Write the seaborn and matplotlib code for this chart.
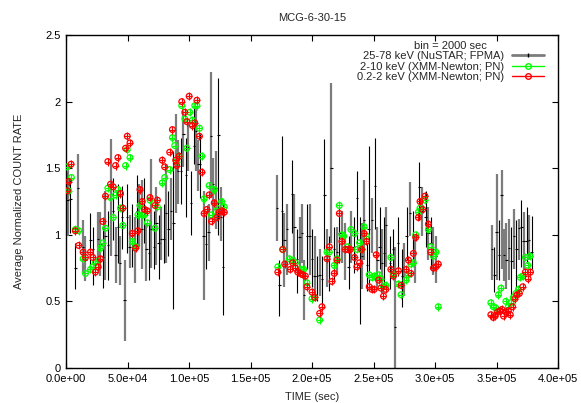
import numpy as np
import pandas as pd
import matplotlib
matplotlib.use("Agg")
import matplotlib.pyplot as plt
from matplotlib.lines import Line2D
from matplotlib.ticker import FormatStrFormatter, FuncFormatter
import seaborn as sns

# ---------------- data ----------------
title = "MCG-6-30-15"
xlabel = "TIME (sec)"
ylabel = "Average Normalized COUNT RATE"
legend_title = "bin = 2000 sec"
label_nustar = "25-78 keV (NuSTAR; FPMA)"
label_hard = "2-10 keV (XMM-Newton; PN)"
label_soft = "0.2-2 keV (XMM-Newton; PN)"

x_ticks = [0, 50000, 100000, 150000, 200000, 250000, 300000, 350000, 400000]
y_ticks = [0, 0.5, 1, 1.5, 2, 2.5]

# NuSTAR FPMA (grey bars): time, rate, upper, lower
fpma_t = [1400, 9800, 13900, 15800, 25800, 28000, 32100, 36200, 40300, 43800,
          47600, 51700, 55800, 59600, 61500, 65300, 69400, 73400, 77200, 81300,
          85400, 89200, 91100, 95500, 99300, 105500, 107700, 111800, 115900, 117800,
          119700, 121900, 125900,
          171600, 177600, 179700, 185700, 190000, 191900, 193500, 198100, 202200, 206200,
          212200, 215700, 220300, 224300, 227000, 231600, 240500, 242400, 248700, 253200,
          256800, 260300, 267600, 274900, 279700, 283800, 289200, 294600, 298700, 300600,
          346300, 350100, 354200, 356100, 358000, 360200, 364200, 368300, 372100, 376400]
fpma_rate = [1.26, 1.35, 0.91, 0.81, 0.97, 0.93, 0.99, 1.28, 0.85, 0.79,
             0.51, 0.91, 0.91, 1.15, 1.04, 0.89, 1.04, 1.09, 0.97, 1.16,
             1.18, 1.53, 1.48, 1.76, 1.66, 1.78, 1.53, 0.99, 1.02, 1.74,
             1.38, 1.35, 1.13,
             1.20, 0.96, 1.04, 1.06, 0.98, 1.01, 0.55, 0.99, 0.69, 0.70,
             0.81, 1.50, 0.87, 1.01, 0.89, 1.02, 0.84, 1.11, 1.11, 0.81,
             0.79, 1.07, 0.31, 0.74, 1.16, 0.79, 1.18, 1.01, 0.89, 0.84,
             0.89, 1.02, 1.30, 0.85, 0.81, 0.90, 0.99, 1.05, 0.95, 0.96]
fpma_hi = [1.53, 1.61, 1.11, 0.99, 1.17, 1.17, 1.33, 1.72, 1.06, 0.99,
           0.81, 1.15, 1.13, 1.38, 1.41, 1.09, 1.57, 1.36, 1.21, 1.53,
           1.43, 1.91, 1.71, 1.93, 1.83, 1.96, 1.71, 1.33, 1.23, 2.22,
           1.58, 1.63, 1.36,
           1.45, 1.16, 1.23, 1.31, 1.13, 1.23, 0.81, 1.23, 0.99, 0.89,
           1.04, 2.14, 1.06, 1.18, 1.09, 1.18, 1.09, 1.41, 1.28, 1.06,
           1.04, 1.21, 0.91, 0.94, 1.40, 0.99, 1.36, 1.21, 1.06, 0.99,
           1.07, 1.46, 1.49, 1.04, 1.09, 1.12, 1.19, 1.12, 1.17, 1.15]
fpma_lo = [0.99, 1.04, 0.71, 0.65, 0.77, 0.69, 0.66, 0.84, 0.64, 0.62,
           0.20, 0.75, 0.64, 0.91, 0.74, 0.65, 0.75, 0.77, 0.81, 0.79,
           0.96, 1.16, 1.23, 1.51, 1.48, 1.48, 1.33, 0.51, 0.80, 1.28,
           1.13, 1.04, 0.95,
           0.95, 0.61, 0.70, 0.79, 0.70, 0.79, 0.36, 0.70, 0.51, 0.54,
           0.61, 0.94, 0.70, 0.79, 0.66, 0.79, 0.59, 0.81, 0.86, 0.59,
           0.56, 0.76, 0.00, 0.54, 0.99, 0.64, 0.99, 0.81, 0.70, 0.64,
           0.66, 0.66, 0.74, 0.65, 0.59, 0.66, 0.74, 0.81, 0.74, 0.81]

# NuSTAR (black bars): time, rate, upper, lower
fpmb_t = [3500, 7600, 19900, 21800, 29900, 34000, 38100, 42200, 45700, 49800,
          53900, 57700, 63400, 67500, 71500, 75300, 79400, 83200, 87300, 93300,
          97400, 101500, 104200, 109100, 113700, 123800, 127800,
          173500, 175700, 183800, 187800, 195900, 200000, 204100, 208100, 210000, 213500,
          218100, 222200, 229700, 233800, 236500, 239200, 244600, 246000, 251400, 254900,
          258600, 263500, 265700, 269700, 273000, 277000, 281900, 287300, 292400, 296500,
          348300, 352000, 362100, 366100, 370200, 374500, 378600]
fpmb_rate = [1.27, 0.75, 0.96, 0.89, 0.83, 0.92, 1.18, 1.06, 1.13, 1.13,
             1.00, 1.18, 1.18, 0.86, 0.91, 0.94, 0.97, 1.04, 1.09, 1.48,
             1.45, 1.24, 1.67, 1.53, 0.93, 1.75, 0.76,
             0.62, 1.18, 1.31, 0.82, 0.99, 0.82, 0.69, 0.67, 1.30, 0.84,
             0.89, 1.01, 0.76, 0.91, 1.28, 0.79, 0.77, 1.04, 1.37, 0.91,
             0.86, 0.79, 0.89, 0.94, 0.69, 0.99, 0.99, 1.36, 1.13, 0.94,
             0.70, 0.85, 0.80, 0.89, 1.06, 0.95, 0.87]
fpmb_hi = [1.43, 0.94, 1.16, 1.06, 1.06, 1.18, 1.43, 1.38, 1.37, 1.38,
           1.23, 1.45, 1.43, 1.09, 1.18, 1.15, 1.23, 1.33, 1.63, 1.73,
           1.73, 1.48, 1.96, 1.76, 1.18, 2.18, 1.23,
           0.81, 1.74, 1.56, 1.04, 1.23, 1.04, 0.84, 0.84, 1.72, 0.99,
           1.06, 1.22, 0.99, 1.13, 1.48, 1.13, 0.94, 1.67, 1.73, 1.21,
           1.13, 0.99, 1.04, 1.13, 0.89, 1.21, 1.18, 1.55, 1.33, 1.13,
           0.91, 1.11, 1.06, 1.11, 1.26, 1.21, 1.14]
fpmb_lo = [1.01, 0.59, 0.75, 0.62, 0.60, 0.66, 0.96, 0.79, 0.89, 0.86,
           0.76, 0.91, 0.94, 0.66, 0.74, 0.67, 0.79, 0.84, 0.44, 1.23,
           1.13, 1.00, 1.53, 1.28, 0.74, 1.00, 0.40,
           0.39, 0.91, 1.01, 0.56, 0.74, 0.61, 0.50, 0.46, 0.89, 0.58,
           0.66, 0.79, 0.59, 0.71, 0.94, 0.33, 0.58, 0.64, 1.04, 0.74,
           0.59, 0.59, 0.69, 0.69, 0.46, 0.81, 0.79, 1.11, 0.91, 0.74,
           0.57, 0.66, 0.54, 0.60, 0.76, 0.79, 0.74]

# XMM-Newton 2-10 keV (green)
hard_t = [1000, 2200, 4400, 7600, 10300, 13900, 15800, 19900, 21800, 23900,
          26100, 28000, 29900, 32100, 34000, 36200, 38400, 40300, 42200, 44300,
          46200, 48400, 49800, 52000, 53900, 56600, 58500, 60100, 62000, 63900,
          66100, 68300, 72400, 74300, 78300, 80200, 84300, 86500, 88400, 90000,
          91900, 94100, 96600, 98200, 100600, 102800, 104700, 106400, 108500, 110400,
          112300, 116400, 118300, 120500, 122700, 126500, 128700,
          172200, 176200, 181600, 184300, 186500, 190500, 193200, 195900, 200000, 202200,
          206200, 212200, 214100, 218100, 220300, 222200, 224300, 225700, 228900, 231600,
          234600, 236500, 238700, 240500, 242400, 244300, 246500, 248700, 250500, 254100,
          256000, 258100, 260000, 264100, 266200, 270300, 272400, 276500, 278400, 280300,
          282400, 284300, 286500, 287800, 291900, 294600, 296500, 298700, 300800, 302700,
          345400, 347300, 349500, 351600, 353600, 357600, 359600, 361700, 363700, 365800,
          367800, 369400, 371300, 373500, 375400, 377300]
hard_rate = [1.51, 1.33, 1.43, 1.04, 1.03, 0.82, 0.71, 0.74, 0.76, 0.79,
             0.80, 0.90, 0.94, 1.05, 1.35, 1.28, 1.13, 1.30, 1.34, 1.20,
             1.07, 1.52, 1.64, 1.58, 0.95, 0.91, 1.15, 1.22, 1.15, 1.15,
             1.09, 1.26, 1.05, 1.21, 1.39, 1.43, 1.49, 1.73, 1.67, 1.55,
             1.59, 1.97, 1.87, 1.65, 1.92, 1.86, 1.97, 1.97, 1.80, 1.59,
             1.27, 1.37, 1.15, 1.34, 1.20, 1.25, 1.21,
             0.76, 0.89, 0.82, 0.81, 0.79, 0.74, 0.74, 0.64, 0.52, 0.53,
             0.36, 0.87, 0.87, 0.77, 0.82, 1.22, 1.00, 0.99, 0.91, 1.04,
             1.01, 0.89, 0.94, 0.89, 1.06, 0.99, 0.70, 0.68, 0.69, 0.70,
             0.67, 0.61, 0.62, 0.83, 0.70, 0.63, 0.55, 0.66, 0.70, 0.78,
             0.79, 1.00, 1.17, 1.20, 1.26, 1.04, 0.91, 0.84, 0.87, 0.46,
             0.49, 0.46, 0.45, 0.55, 0.60, 0.50, 0.46, 0.49, 0.53, 0.56,
             0.59, 0.68, 0.69, 0.83, 0.77, 0.84]

# XMM-Newton 0.2-2 keV (red)
soft_t = [1000, 2200, 4100, 7600, 10300, 13900, 15800, 19900, 21800, 23900,
          26100, 28000, 29900, 32100, 34000, 36200, 38400, 40300, 42200, 44300,
          46200, 48400, 49800, 52000, 53900, 56600, 58500, 60100, 62000, 63900,
          66100, 68300, 72400, 74300, 78300, 80200, 84300, 86500, 89200, 90000,
          91900, 94100, 96600, 98200, 100100, 102800, 104700, 106400, 108500, 110400,
          112300, 114500, 116400, 118300, 120500, 122700, 124600, 126500, 128700,
          172200, 176200, 177800, 182400, 184300, 186500, 188400, 190500, 192400, 194600,
          195900, 200000, 202200, 206200, 208100, 212200, 214100, 216200, 218100, 220300,
          222200, 224300, 227000, 228900, 231100, 234600, 236500, 238700, 240300, 242400,
          244300, 246500, 248700, 250500, 252200, 254100, 256000, 258100, 260000, 264100,
          266200, 270300, 272400, 276500, 278400, 280300, 282400, 284300, 286500, 287800,
          290000, 291900, 294600, 296500, 298700, 300800, 302700,
          345400, 347300, 348900, 350800, 352700, 354400, 355700, 357600, 359600, 361200,
          363100, 365000, 366700, 368600, 371300, 373500, 375700, 377600]
soft_rate = [1.33, 1.40, 1.53, 1.03, 0.92, 0.87, 0.83, 0.87, 0.83, 0.72,
             0.76, 0.82, 1.10, 1.29, 1.55, 1.38, 1.36, 1.52, 1.58, 1.31,
             1.20, 1.65, 1.74, 1.69, 1.01, 0.90, 1.03, 1.34, 1.25, 1.19,
             1.18, 1.28, 1.22, 1.26, 1.56, 1.51, 1.62, 1.79, 1.56, 1.52,
             1.59, 2.00, 1.92, 1.85, 2.04, 1.82, 1.84, 2.01, 1.74, 1.47,
             1.16, 1.19, 1.30, 1.10, 1.24, 1.13, 1.17, 1.18, 1.17,
             0.72, 0.89, 0.78, 0.74, 0.79, 0.75, 0.72, 0.71, 0.70, 0.69,
             0.61, 0.57, 0.53, 0.41, 0.46, 0.82, 0.91, 0.65, 0.71, 0.81,
             1.16, 0.95, 0.89, 0.89, 0.89, 0.83, 0.76, 0.79, 0.89, 1.01,
             0.95, 0.61, 0.59, 0.59, 0.85, 0.66, 0.60, 0.54, 0.59, 0.74,
             0.69, 0.73, 0.62, 0.74, 0.81, 0.71, 0.86, 0.98, 1.13, 1.25,
             1.19, 1.29, 1.08, 0.87, 0.75, 0.76, 0.78,
             0.40, 0.38, 0.39, 0.42, 0.43, 0.44, 0.39, 0.42, 0.43, 0.40,
             0.46, 0.52, 0.55, 0.56, 0.61, 0.72, 0.67, 0.72]

bin_half = 1000      # half of the 2000 s bin
xmm_err = 0.03       # typical XMM rate error

# ---------------- style ----------------
sns.set_style("ticks")
plt.rcParams['font.family'] = ['Liberation Sans', 'DejaVu Sans']
plt.rcParams['font.size'] = 8

grey = "#7c7c7c"
green = "#00ff00"
red = "#ff0000"

fig = plt.figure(figsize=(5.81, 4.03), dpi=100)
ax = fig.add_axes([66 / 581, 1 - 368 / 403, (558 - 66) / 581, (368 - 35) / 403])

# NuSTAR bars
fa = pd.DataFrame({"t": fpma_t, "r": fpma_rate, "hi": fpma_hi, "lo": fpma_lo})
fb = pd.DataFrame({"t": fpmb_t, "r": fpmb_rate, "hi": fpmb_hi, "lo": fpmb_lo})
ax.errorbar(fa["t"], fa["r"], yerr=[fa["r"] - fa["lo"], fa["hi"] - fa["r"]],
            fmt="none", ecolor=grey, elinewidth=1.6, capsize=0, zorder=2)
ax.errorbar(fb["t"], fb["r"], yerr=[fb["r"] - fb["lo"], fb["hi"] - fb["r"]],
            xerr=bin_half, fmt="none", ecolor="black", elinewidth=0.8, capsize=0, zorder=3)
# centre ticks for grey bars
ax.errorbar(fa["t"], fa["r"], xerr=bin_half, fmt="none", ecolor="black",
            elinewidth=0.8, capsize=0, zorder=3)

# XMM points
hd = pd.DataFrame({"t": hard_t, "r": hard_rate})
sd = pd.DataFrame({"t": soft_t, "r": soft_rate})
for df, col, z in [(hd, green, 4), (sd, red, 5)]:
    ax.errorbar(df["t"], df["r"], yerr=xmm_err, fmt="none",
                ecolor=col, elinewidth=0.8, capsize=0, zorder=z)
    sns.scatterplot(data=df, x="t", y="r", ax=ax, marker="+", s=14,
                    color=col, linewidth=0.8, zorder=z)
    sns.scatterplot(data=df, x="t", y="r", ax=ax, marker="o", s=17,
                    facecolors="none", edgecolor=col, linewidth=0.9, zorder=z)

ax.set_xlim(0, 400000)
ax.set_ylim(0, 2.5)
ax.set_xticks(x_ticks)
ax.set_yticks(y_ticks)
ax.xaxis.set_major_formatter(FormatStrFormatter("%.1e"))
ax.yaxis.set_major_formatter(FuncFormatter(lambda v, p: f"{v:g}"))
ax.tick_params(direction="in", length=4, width=0.8, top=True, right=True,
               labelsize=8, colors="black", pad=4)
for sp in ax.spines.values():
    sp.set_linewidth(1.0)
    sp.set_color("black")

ax.set_xlabel(xlabel, fontsize=8, labelpad=6)
ax.set_ylabel(ylabel, fontsize=8, labelpad=15)
ax.set_title(title, fontsize=8, pad=10)

handles = [
    Line2D([], [], color=grey, lw=2, marker="|", markeredgecolor="black", markersize=3),
    Line2D([], [], color=green, lw=1, marker="o", mfc="none", mec=green, markersize=4),
    Line2D([], [], color=red, lw=1, marker="o", mfc="none", mec=red, markersize=4),
]
ax.legend(handles, [label_nustar, label_hard, label_soft], title=legend_title,
          loc="upper right", bbox_to_anchor=(1 - 8 / 492, 1),
          markerfirst=False, frameon=False, fontsize=8,
          title_fontsize=8, handlelength=2.9, labelspacing=0.05, handletextpad=0.7,
          borderaxespad=0.3, borderpad=0.2)

fig.savefig("out.png", dpi=100)
